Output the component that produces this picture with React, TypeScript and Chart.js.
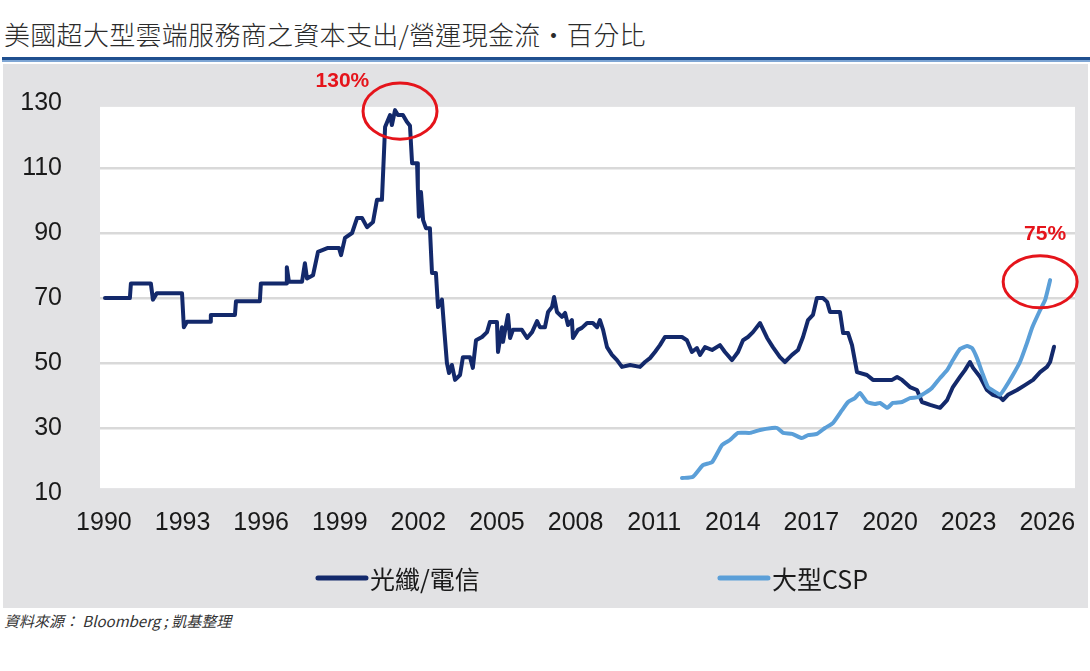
import React, { useEffect, useRef } from 'react';
import { Chart, registerables } from 'chart.js';

Chart.register(...registerables);

const titleText = '美國超大型雲端服務商之資本支出/營運現金流・百分比';
const sourceText = '資料來源： Bloomberg ; 凱基整理';
const seriesNames = ['光纖/電信', '大型CSP'];

const xTickLabels = ['1990', '1993', '1996', '1999', '2002', '2005', '2008', '2011', '2014', '2017', '2020', '2023', '2026'];
const yTickValues = [10, 30, 50, 70, 90, 110, 130];

const telecomYears = [
  1990.04, 1990.99, 1991.03, 1991.79, 1991.87, 1992.02, 1992.98, 1993.05, 1993.17, 1994.05,
  1994.08, 1995.0, 1995.04, 1995.95, 1995.99, 1996.95, 1996.98, 1997.06, 1997.56, 1997.67,
  1997.75, 1997.98, 1998.17, 1998.55, 1998.97, 1999.05, 1999.2, 1999.47, 1999.66, 1999.85,
  2000.04, 2000.27, 2000.42, 2000.61, 2000.73, 2000.92, 2000.99, 2001.11, 2001.22, 2001.41,
  2001.56, 2001.68, 2001.76, 2001.95, 2001.98, 2002.02, 2002.1, 2002.18, 2002.29, 2002.44,
  2002.52, 2002.67, 2002.75, 2002.9, 2003.0, 2003.09, 2003.17, 2003.28, 2003.4, 2003.59,
  2003.7, 2003.97, 2004.08, 2004.2, 2004.43, 2004.62, 2004.73, 2005.0, 2005.04, 2005.19,
  2005.23, 2005.42, 2005.5, 2005.61, 2005.95, 2006.15, 2006.34, 2006.53, 2006.64, 2006.83,
  2006.95, 2007.1, 2007.18, 2007.29, 2007.48, 2007.6, 2007.71, 2007.86, 2007.9, 2008.09,
  2008.24, 2008.44, 2008.66, 2008.82, 2008.93, 2009.05, 2009.2, 2009.39, 2009.58, 2009.77,
  2010.08, 2010.46, 2010.65, 2010.84, 2011.03, 2011.22, 2011.41, 2012.06, 2012.25, 2012.44,
  2012.63, 2012.75, 2012.94, 2013.21, 2013.51, 2013.7, 2013.97, 2014.2, 2014.39, 2014.58,
  2014.77, 2015.04, 2015.31, 2015.53, 2015.8, 2015.99, 2016.26, 2016.49, 2016.68, 2016.87,
  2017.06, 2017.21, 2017.44, 2017.6, 2017.71, 2018.09, 2018.21, 2018.4, 2018.55, 2018.74,
  2019.12, 2019.35, 2019.73, 2020.08, 2020.27, 2020.46, 2020.76, 2021.03, 2021.22, 2021.53,
  2021.91, 2022.18, 2022.4, 2022.67, 2022.86, 2023.05, 2023.17, 2023.44, 2023.7, 2023.93,
  2024.2, 2024.31, 2024.5, 2024.85, 2025.15, 2025.46, 2025.73, 2025.99, 2026.11, 2026.26,
];
const telecomValues = [
  70, 70, 74.5, 74.5, 69.5, 71.5, 71.5, 61, 62.7, 62.7,
  64.8, 64.8, 69, 69, 74.5, 74.5, 79.5, 75, 75, 80.7,
  76, 77, 84.2, 85.4, 85.4, 83.2, 88.5, 90, 94.6, 94.6,
  91.8, 93.4, 100.2, 100.2, 122.6, 126.3, 123.2, 127.8, 126.3, 126.3,
  124.2, 123, 111.5, 111.5, 103.8, 95, 102.6, 94, 91.5, 91.5,
  77.7, 77.7, 67.2, 69.5, 59, 50, 46.9, 49.4, 44.8, 46.3,
  51.8, 51.8, 48.5, 57, 58, 59.5, 62.6, 62.6, 53.4, 61,
  56.5, 64.8, 57.7, 60.2, 60.2, 57.7, 59.5, 62.9, 61, 61,
  65.7, 67.2, 70.3, 65.7, 64.2, 65.4, 61.7, 63.2, 57.7, 60.2,
  60.8, 62.3, 62.3, 61, 63.2, 60.2, 54.9, 52.5, 50.9, 48.8,
  49.4, 48.8, 50.3, 51.5, 53.4, 55.5, 58, 58, 57, 53.4,
  54.6, 52.5, 54.9, 54, 55.5, 53.4, 50.9, 53.4, 57, 58,
  59.5, 62.3, 57.7, 54.9, 51.8, 50.3, 52.5, 54, 58, 63.2,
  64.8, 70, 70, 68.8, 65.7, 65.7, 59.2, 59.2, 55.5, 47.2,
  46.3, 44.8, 44.8, 44.8, 45.7, 44.8, 42.6, 41.7, 38, 37.1,
  36.2, 38.6, 42.6, 45.7, 47.8, 50.3, 48.5, 45.7, 41.7, 40.2,
  39.5, 38.6, 40.2, 41.7, 43.2, 44.8, 47.2, 48.8, 50.3, 55,
];

const cspYears = [
  2012.06, 2012.48, 2012.86, 2013.21, 2013.59, 2013.89, 2014.2, 2014.66, 2015.04, 2015.5,
  2015.69, 2015.92, 2016.26, 2016.64, 2016.87, 2017.21, 2017.52, 2017.82, 2018.17, 2018.4,
  2018.66, 2018.85, 2019.12, 2019.43, 2019.62, 2019.89, 2020.11, 2020.46, 2020.76, 2021.07,
  2021.34, 2021.6, 2021.91, 2022.18, 2022.4, 2022.67, 2022.94, 2023.13, 2023.32, 2023.51,
  2023.74, 2024.08, 2024.2, 2024.39, 2024.69, 2024.96, 2025.23, 2025.42, 2025.73, 2025.92,
  2026.11,
];
const cspValues = [
  14.6, 15, 18.6, 19.5, 24.8, 26.3, 28.5, 28.5, 29.4, 30,
  30, 28.5, 28.2, 26.9, 27.8, 28.2, 30, 31.5, 35.5, 38,
  39.2, 40.8, 38, 37.4, 37.7, 36.2, 37.7, 38, 39.2, 39.5,
  40.8, 42.3, 45.4, 47.8, 50.9, 54.3, 55.2, 54.6, 51.5, 47.2,
  42.6, 40.8, 40.2, 42.3, 46.3, 50.3, 56.2, 60.8, 66.3, 69.4,
  75.5,
];

// callouts around the two highlighted readings
const calloutLabels = ['130%', '75%'];
const calloutYears = [2001.3, 2025.73];
const calloutValues = [127.5, 75];
const calloutLabelYears = [1999.1, 2025.92];
const calloutLabelValues = [136.6, 89.6];

const DARK = '#13296b';
const LIGHT = '#5b9fd8';
const RED = '#e5141b';
const TICK_FONT = '"Liberation Sans", sans-serif';
const CJK_FONT = '"Noto Sans CJK TC", "Noto Sans CJK SC", sans-serif';

const decorPlugin = {
  id: 'decor',
  beforeDraw(chart: any) {
    const { ctx, chartArea } = chart;
    const y = chart.scales.y;
    ctx.save();
    ctx.fillStyle = '#ffffff';
    const top = y.getPixelForValue(128.8);
    const bottom = y.getPixelForValue(11.5);
    ctx.fillRect(chartArea.left, top, chartArea.right - chartArea.left, bottom - top);
    ctx.restore();
  },
  afterDraw(chart: any) {
    const { ctx } = chart;
    const xs = chart.scales.x;
    const ys = chart.scales.y;
    ctx.save();
    calloutLabels.forEach((label, i) => {
      const cx = xs.getPixelForValue(calloutYears[i]);
      const cy = ys.getPixelForValue(calloutValues[i]);
      ctx.beginPath();
      ctx.ellipse(cx, cy, 37, i === 0 ? 28 : 26, 0, 0, Math.PI * 2);
      ctx.lineWidth = 3;
      ctx.strokeStyle = RED;
      ctx.stroke();
      ctx.fillStyle = RED;
      ctx.font = 'bold 21px "Liberation Sans", sans-serif';
      ctx.textAlign = 'center';
      ctx.textBaseline = 'middle';
      ctx.fillText(label, xs.getPixelForValue(calloutLabelYears[i]), ys.getPixelForValue(calloutLabelValues[i]));
    });
    // legend
    const W = chart.width;
    const ly = 514;
    const items = chart.data.datasets.map((d: any) => ({ label: d.label, color: d.borderColor }));
    const starts = [0.2903 * W, 0.6608 * W];
    items.forEach((it: any, i: number) => {
      const x0 = starts[i];
      ctx.beginPath();
      ctx.moveTo(x0, ly);
      ctx.lineTo(x0 + 48, ly);
      ctx.lineWidth = 5;
      ctx.lineCap = 'round';
      ctx.strokeStyle = it.color;
      ctx.stroke();
      ctx.fillStyle = '#1a1a1a';
      ctx.font = `25px ${CJK_FONT}`;
      ctx.textAlign = 'left';
      ctx.textBaseline = 'middle';
      ctx.fillText(it.label, x0 + 52, ly + 1);
    });
    ctx.restore();
  },
};

export default function App() {
  const canvasRef = useRef<HTMLCanvasElement | null>(null);

  useEffect(() => {
    if (!canvasRef.current) return;
    const chart = new Chart(canvasRef.current, {
      type: 'line',
      data: {
        datasets: [
          {
            label: seriesNames[0],
            data: telecomYears.map((x, i) => ({ x, y: telecomValues[i] })),
            borderColor: DARK,
            borderWidth: 4,
            pointRadius: 0,
            tension: 0,
            borderJoinStyle: 'round',
            borderCapStyle: 'round',
            order: 1,
          },
          {
            label: seriesNames[1],
            data: cspYears.map((x, i) => ({ x, y: cspValues[i] })),
            borderColor: LIGHT,
            borderWidth: 4,
            pointRadius: 0,
            tension: 0.15,
            borderJoinStyle: 'round',
            borderCapStyle: 'round',
            order: 0,
          },
        ],
      },
      options: {
        responsive: false,
        animation: false,
        devicePixelRatio: 1,
        layout: { padding: { top: 39, right: 13, left: 0, bottom: 0 } },
        plugins: {
          legend: { display: false },
          tooltip: { enabled: false },
        },
        scales: {
          x: {
            type: 'linear',
            min: 1989.85,
            max: 2027.06,
            grid: { display: false, drawTicks: false },
            border: { display: false },
            afterBuildTicks: (scale: any) => {
              scale.ticks = xTickLabels.map((l) => ({ value: Number(l) }));
            },
            afterFit: (scale: any) => {
              scale.height = 115;
              scale.paddingLeft = 0;
              scale.paddingRight = 0;
            },
            ticks: {
              autoSkip: false,
              maxRotation: 0,
              padding: 15,
              color: '#1a1a1a',
              font: { family: TICK_FONT, size: 25 },
              callback: (_v: any, i: number) => xTickLabels[i],
            },
          },
          y: {
            min: yTickValues[0],
            max: yTickValues[yTickValues.length - 1],
            afterBuildTicks: (scale: any) => {
              scale.ticks = yTickValues.map((v) => ({ value: v }));
            },
            afterFit: (scale: any) => {
              scale.width = 97;
              scale.paddingTop = 0;
              scale.paddingBottom = 0;
            },
            grid: {
              drawTicks: false,
              lineWidth: 2.5,
              color: (c: any) =>
                c.tick && (c.tick.value === yTickValues[0] || c.tick.value === yTickValues[yTickValues.length - 1])
                  ? 'rgba(0,0,0,0)'
                  : '#d9d9d9',
            },
            border: { display: false },
            ticks: {
              padding: 38,
              color: '#1a1a1a',
              font: { family: TICK_FONT, size: 25 },
              callback: (v: any) => String(v),
            },
          },
        },
      },
      plugins: [decorPlugin],
    } as any);
    return () => chart.destroy();
  }, []);

  return (
    <div style={{ position: 'absolute', left: 0, top: 0, width: 1090, height: 671, background: '#ffffff', overflow: 'hidden' }}>
      <div
        lang="zh-Hant-TW"
        style={{
          position: 'absolute',
          left: 4,
          top: 17,
          fontFamily: '"Noto Sans CJK TC", sans-serif',
          fontSize: 26,
          fontWeight: 300,
          letterSpacing: 0.3,
          color: '#2b2b2b',
          whiteSpace: 'nowrap',
          lineHeight: '34px',
        }}
      >
        {titleText}
      </div>
      <div style={{ position: 'absolute', left: 2, top: 57, width: 1088, height: 3, background: '#1f4f8f' }} />
      <div style={{ position: 'absolute', left: 2, top: 60, width: 1088, height: 2, background: '#7fa6d4' }} />
      <div style={{ position: 'absolute', left: 3, top: 64, width: 1085, height: 544, background: '#e2e2e4' }}>
        <canvas ref={canvasRef} width={1085} height={544} style={{ display: 'block' }} />
      </div>
      <div
        style={{
          position: 'absolute',
          left: 4,
          top: 611,
          fontFamily: CJK_FONT,
          fontStyle: 'italic',
          fontSize: 15,
          color: '#333333',
          whiteSpace: 'nowrap',
          lineHeight: '20px',
        }}
      >
        {sourceText}
      </div>
    </div>
  );
}
